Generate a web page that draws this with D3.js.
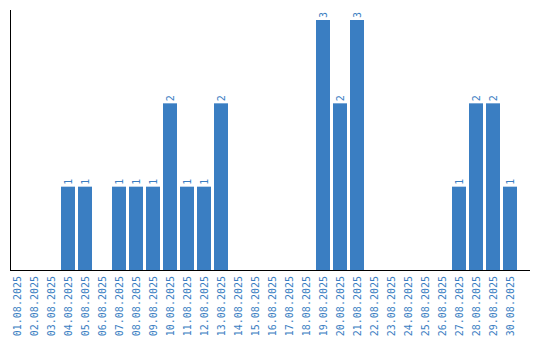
<!DOCTYPE html>
<html><head><meta charset="utf-8">
<script src="https://cdn.jsdelivr.net/npm/d3@7"></script>
<style>body{margin:0;background:#fff}</style>
</head><body>
<svg id="c" width="540" height="340"></svg>
<script>
const dates = ["01.08.2025","02.08.2025","03.08.2025","04.08.2025","05.08.2025","06.08.2025","07.08.2025","08.08.2025","09.08.2025","10.08.2025","11.08.2025","12.08.2025","13.08.2025","14.08.2025","15.08.2025","16.08.2025","17.08.2025","18.08.2025","19.08.2025","20.08.2025","21.08.2025","22.08.2025","23.08.2025","24.08.2025","25.08.2025","26.08.2025","27.08.2025","28.08.2025","29.08.2025","30.08.2025"];
const counts = [0,0,0,1,1,0,1,1,1,2,1,1,2,0,0,0,0,0,3,2,3,0,0,0,0,0,1,2,2,1];

const blue = "#3a7ec2";
const svg = d3.select("#c");
const x = d3.scaleBand().domain(dates).range([10, 517]).paddingInner(3/17).paddingOuter(0).align(0);
const y = d3.scaleLinear().domain([0, 3]).range([270, 20]);
const font = "'DejaVu Sans Mono', monospace";

svg.selectAll("rect.bar").data(dates).join("rect")
  .attr("class","bar")
  .attr("x", d => x(d))
  .attr("width", x.bandwidth())
  .attr("y", (d,i) => y(counts[i]))
  .attr("height", (d,i) => y(0) - y(counts[i]))
  .attr("fill", blue);

svg.selectAll("text.val").data(dates.map((d,i)=>({d, v:counts[i]})).filter(o=>o.v>0)).join("text")
  .attr("class","val")
  .attr("transform", o => `translate(${x(o.d)+x.bandwidth()/2+3.5},${y(o.v)-2}) rotate(-90)`)
  .attr("font-family", font).attr("font-size", 10).attr("fill", blue)
  .text(o => o.v);

svg.selectAll("text.tick").data(dates).join("text")
  .attr("class","tick")
  .attr("transform", d => `translate(${x(d)+x.bandwidth()/2+3.5},276) rotate(-90)`)
  .attr("text-anchor","end")
  .attr("font-family", font).attr("font-size", 10).attr("fill", blue)
  .text(d => d);

svg.append("line").attr("x1",10.5).attr("x2",10.5).attr("y1",10).attr("y2",270.5)
  .attr("stroke","#000").attr("stroke-width",1);
svg.append("line").attr("x1",10).attr("x2",530).attr("y1",270.5).attr("y2",270.5)
  .attr("stroke","#000").attr("stroke-width",1);
</script>
</body></html>
